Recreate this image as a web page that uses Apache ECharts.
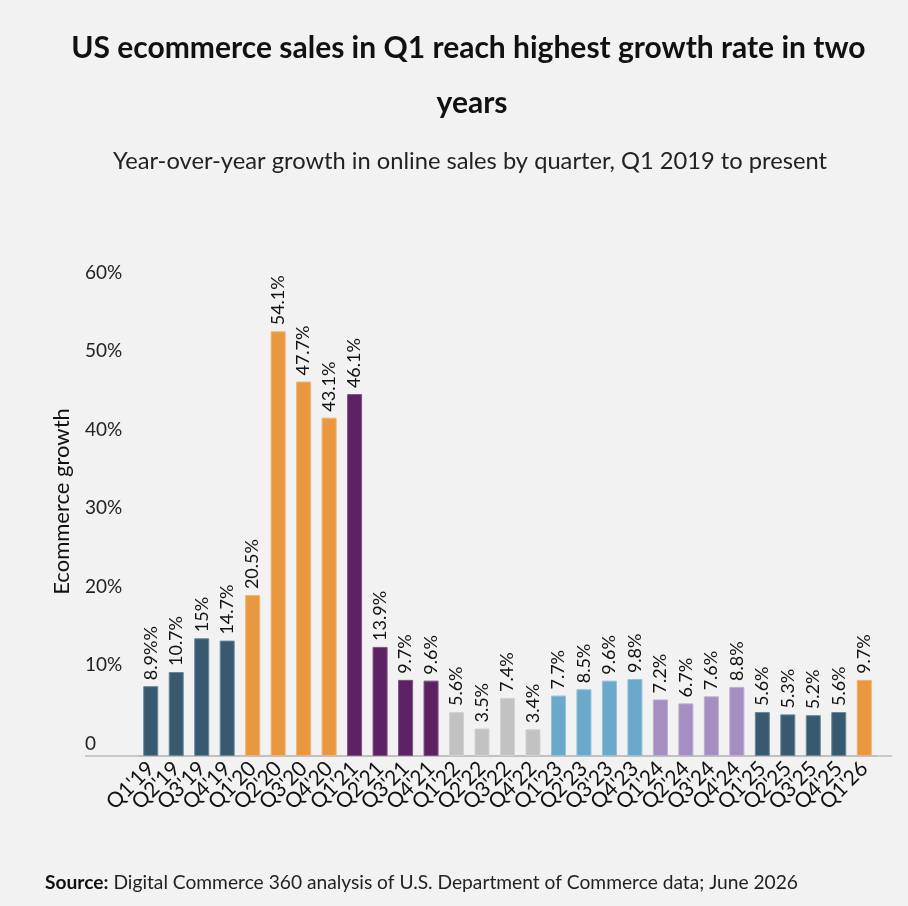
<!DOCTYPE html>
<html>
<head>
<meta charset="utf-8">
<title>US ecommerce growth</title>
<script src="https://cdn.jsdelivr.net/npm/echarts@6/dist/echarts.min.js"></script>
<style>
  html, body { margin: 0; padding: 0; background: #f2f2f2; }
  #chart { width: 908px; height: 906px; }
</style>
</head>
<body>
<div id="chart"></div>
<script>
// quarters, Q1 2019 -> Q1 2026
const quarters = [
  "Q1'19", "Q2'19", "Q3'19", "Q4'19",
  "Q1'20", "Q2'20", "Q3'20", "Q4'20",
  "Q1'21", "Q2'21", "Q3'21", "Q4'21",
  "Q1'22", "Q2'22", "Q3'22", "Q4'22",
  "Q1'23", "Q2'23", "Q3'23", "Q4'23",
  "Q1'24", "Q2'24", "Q3'24", "Q4'24",
  "Q1'25", "Q2'25", "Q3'25", "Q4'25",
  "Q1'26"
]

// yoy growth (%)
const growth = [
  8.9, 10.7, 15, 14.7,
  20.5, 54.1, 47.7, 43.1,
  46.1, 13.9, 9.7, 9.6,
  5.6, 3.5, 7.4, 3.4,
  7.7, 8.5, 9.6, 9.8,
  7.2, 6.7, 7.6, 8.8,
  5.6, 5.3, 5.2, 5.6,
  9.7
]

// labels as printed on the chart (first one has a double %)
const barLabels = [
  '8.9%%', '10.7%', '15%', '14.7%',
  '20.5%', '54.1%', '47.7%', '43.1%',
  '46.1%', '13.9%', '9.7%', '9.6%',
  '5.6%', '3.5%', '7.4%', '3.4%',
  '7.7%', '8.5%', '9.6%', '9.8%',
  '7.2%', '6.7%', '7.6%', '8.8%',
  '5.6%', '5.3%', '5.2%', '5.6%',
  '9.7%'
]

// colour group for each bar (one per year)
const barGroup = [
  0, 0, 0, 0,
  1, 1, 1, 1,
  2, 2, 2, 2,
  3, 3, 3, 3,
  4, 4, 4, 4,
  5, 5, 5, 5,
  0, 0, 0, 0,
  1
]

const yTicks = [0, 10, 20, 30, 40, 50, 60]

const groupFill = ['#385a70', '#e9983f', '#5d2264', '#c2c2c2', '#6aa9cc', '#a48ec2']
const groupEdge = ['#6d8797', '#f0b373', '#80507f', '#d2d2d2', '#93c1db', '#bcacd3']

const FONT = 'Lato, "Noto Sans", sans-serif'

const chart = echarts.init(document.getElementById('chart'))

const option = {
  backgroundColor: '#f2f2f2',
  textStyle: { fontFamily: FONT },
  title: [
    {
      text: 'US ecommerce sales in Q1 reach highest growth rate in two years',
      left: 467,
      top: 16,
      textAlign: 'center',
      textStyle: {
        fontFamily: FONT,
        fontSize: 30,
        fontWeight: 'bold',
        color: '#111',
        width: 815,
        overflow: 'break',
        lineHeight: 55
      }
    },
    {
      text: 'Year-over-year growth in online sales by quarter, Q1 2019 to present',
      left: 465,
      top: 144,
      textAlign: 'center',
      textStyle: { fontFamily: FONT, fontSize: 23.7, fontWeight: 'normal', color: '#222' }
    },
    {
      text: '{b|Source:} Digital Commerce 360 analysis of U.S. Department of Commerce data; June 2026',
      left: 40,
      top: 868,
      textStyle: {
        fontFamily: FONT,
        fontSize: 19.2,
        fontWeight: 'normal',
        color: '#222',
        rich: {
          b: { fontFamily: FONT, fontSize: 19.2, fontWeight: 'bold', color: '#111' }
        }
      }
    }
  ],
  grid: {
    left: 138,
    right: 31,
    top: 285,
    bottom: 150
  },
  xAxis: {
    type: 'category',
    data: quarters,
    axisLine: { show: true, lineStyle: { color: '#bdbdbd', width: 1.5 } },
    axisTick: { show: false },
    axisLabel: {
      interval: 0,
      rotate: 45,
      margin: 9,
      fontFamily: FONT,
      fontSize: 21,
      color: '#111'
    }
  },
  yAxis: {
    type: 'value',
    min: yTicks[0],
    max: yTicks[yTicks.length - 1],
    interval: 10,
    name: 'Ecommerce growth',
    nameLocation: 'middle',
    nameGap: 65,
    nameTextStyle: {
      fontFamily: FONT,
      fontSize: 22,
      color: '#111',
      padding: [0, 0, 0, 38]
    },
    splitLine: { show: false },
    axisLine: { show: false },
    axisTick: { show: false },
    axisLabel: {
      margin: 53,
      align: 'left',
      verticalAlign: 'bottom',
      padding: [0, 0, 3, 0],
      fontFamily: FONT,
      fontSize: 19,
      color: '#222',
      formatter: v => (v === 0 ? '0' : v + '%')
    }
  },
  series: [
    {
      type: 'bar',
      barWidth: 15,
      data: growth.map((v, i) => ({
        value: v,
        itemStyle: {
          color: groupFill[barGroup[i]],
          borderColor: groupEdge[barGroup[i]],
          borderWidth: 1
        }
      })),
      label: {
        show: true,
        position: 'top',
        rotate: 90,
        align: 'left',
        verticalAlign: 'middle',
        distance: 6,
        fontFamily: FONT,
        fontSize: 18,
        color: '#111',
        formatter: p => barLabels[p.dataIndex]
      }
    }
  ]
}

chart.setOption(option)

// the baseline runs a bit past the plot on both sides, as in the original
const baseY = chart.convertToPixel({ yAxisIndex: 0 }, 0)
chart.setOption({
  graphic: [
    {
      type: 'line',
      shape: { x1: 85, y1: baseY, x2: 892, y2: baseY },
      style: { stroke: '#bdbdbd', lineWidth: 1.5 },
      z: 1
    }
  ]
})
</script>
</body>
</html>
